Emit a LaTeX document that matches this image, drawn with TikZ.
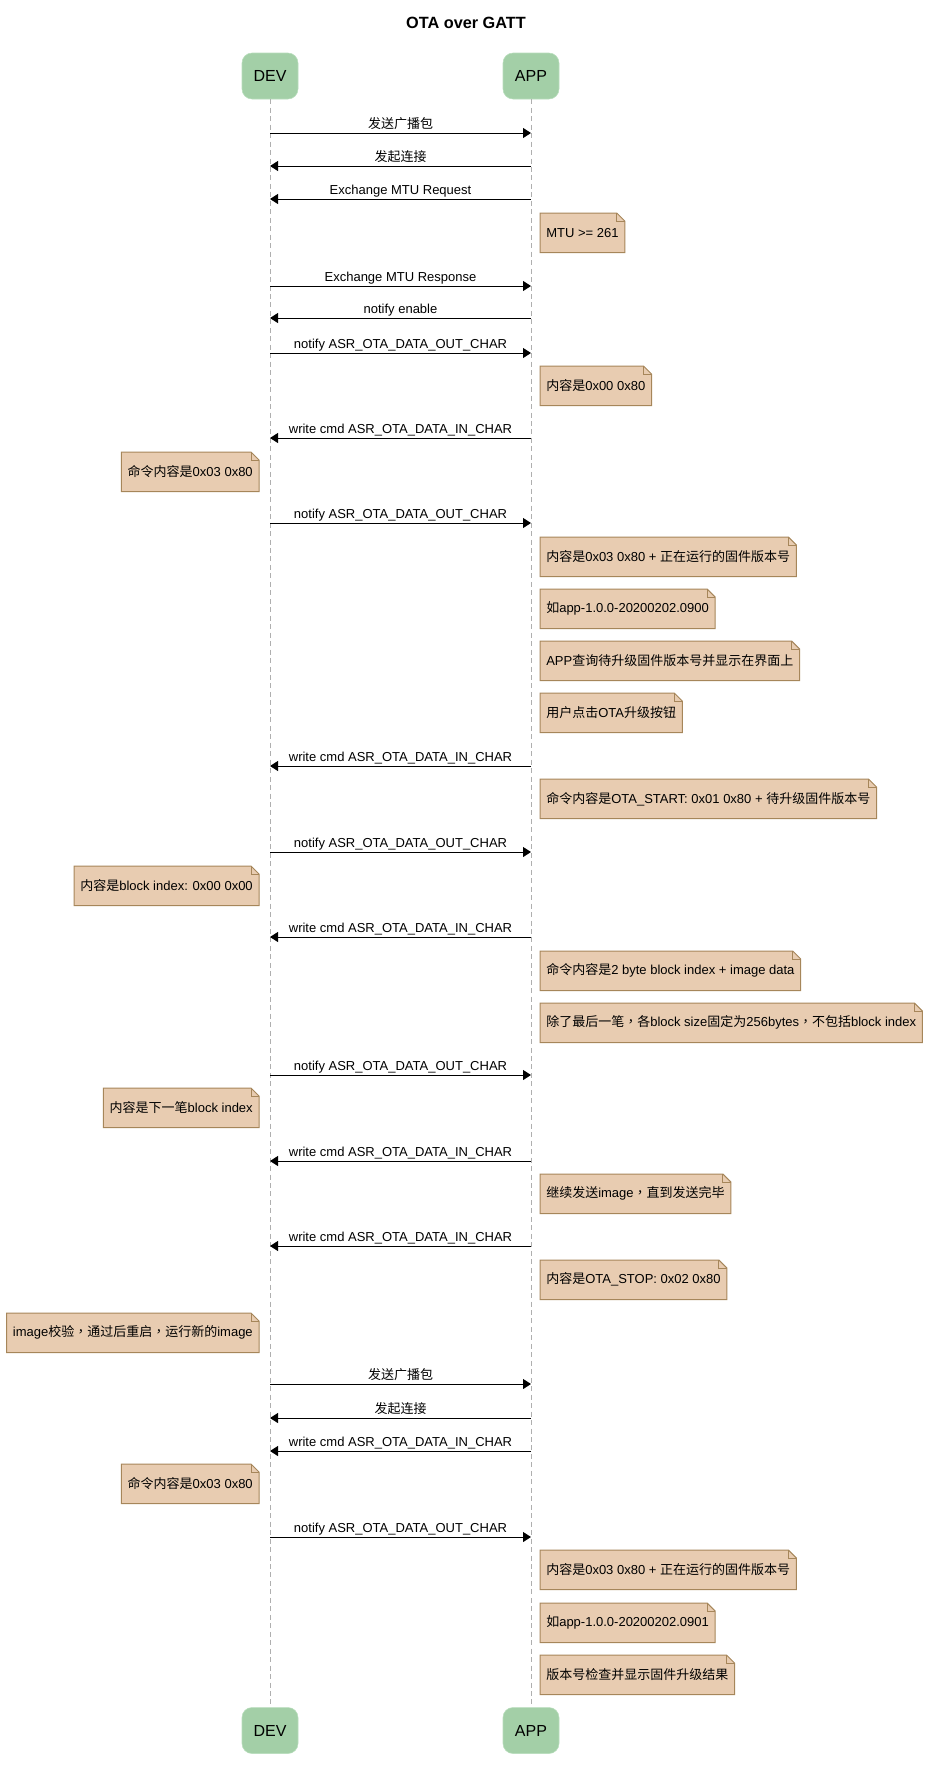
\documentclass[tikz,border=0pt]{standalone}
\usepackage{fontspec}
\setmainfont{Liberation Sans}
\newfontfamily\cjk{Noto Sans CJK SC}
\newfontfamily\cjktc{Noto Sans CJK TC}
\usepackage{tikz}
\usetikzlibrary{positioning,calc,arrows.meta}
\definecolor{partfill}{RGB}{163,207,167}
\definecolor{partline}{RGB}{184,221,188}
\definecolor{notefill}{RGB}{232,204,177}
\definecolor{noteline}{RGB}{166,134,90}
\definecolor{lifegray}{RGB}{175,175,175}
\newcommand{\zh}[1]{{\cjk #1}}
\newcommand{\zhcomma}{{\cjktc ，}}
\newcommand{\msgfont}{\fontsize{9.75}{11.7}\selectfont}
\tikzstyle{part}=[draw=partline, fill=partfill, rounded corners=7.5pt, minimum width=42pt, minimum height=34.5pt, font=\fontsize{12}{14}\selectfont]
\tikzstyle{life}=[draw=lifegray, line width=0.75pt, dash pattern=on 3.75pt off 2.6pt]
\tikzstyle{msg}=[-{Triangle[length=6pt,width=7.5pt]}, line width=0.75pt]
\tikzstyle{lbl}=[midway, anchor=base, yshift=3.75pt, inner sep=0pt, font=\msgfont]
\tikzstyle{rnote}=[anchor=north west, inner xsep=4.5pt, inner ysep=0pt, minimum height=29.25pt, font=\msgfont]
\tikzstyle{lnote}=[rnote, anchor=north east]
\pgfdeclarelayer{bg}
\pgfsetlayers{bg,main}
% folded note drawn behind its text node
\newcommand{\dogear}[1]{%
  \begin{pgfonlayer}{bg}
    \filldraw[draw=noteline, fill=notefill, line width=0.75pt] (#1.north west) -- ([xshift=-6pt]#1.north east) -- ([yshift=-6pt]#1.north east) -- (#1.south east) -- (#1.south west) -- cycle;
    \draw[noteline, line width=0.75pt] ([xshift=-6pt]#1.north east) -- ([xshift=-6pt,yshift=-6pt]#1.north east) -- ([yshift=-6pt]#1.north east);
  \end{pgfonlayer}}
\begin{document}
\begin{tikzpicture}[x=0.75pt, y=-0.75pt]
	\useasboundingbox (0,0) rectangle (932,1778);
	\node[font=\bfseries\fontsize{12.2}{14}\selectfont] (title) at (466,23) {OTA over GATT};
	\node[part] (dev) at (270,76) {DEV};
	\node[part] (app) at (531,76) {APP};
	\node[part] (devb) at (270,1730.5) {DEV};
	\node[part] (appb) at (531,1730.5) {APP};
	\draw[life] (dev) -- (devb);
	\draw[life] (app) -- (appb);
	% messages
	\coordinate (d1) at (270,133); \coordinate (a1) at (531,133);
	\draw[msg] (d1) -- (a1) node[lbl] {\zh{发送广播包}};
	\coordinate (d2) at (270,166); \coordinate (a2) at (531,166);
	\draw[msg] (a2) -- (d2) node[lbl] {\zh{发起连接}};
	\coordinate (d3) at (270,199); \coordinate (a3) at (531,199);
	\draw[msg] (a3) -- (d3) node[lbl] {Exchange MTU Request};
	\node[rnote] (n1) at (540,213) {MTU >= 261}; \dogear{n1}
	\coordinate (d4) at (270,286); \coordinate (a4) at (531,286);
	\draw[msg] (d4) -- (a4) node[lbl] {Exchange MTU Response};
	\coordinate (d5) at (270,318); \coordinate (a5) at (531,318);
	\draw[msg] (a5) -- (d5) node[lbl] {notify enable};
	\coordinate (d6) at (270,353); \coordinate (a6) at (531,353);
	\draw[msg] (d6) -- (a6) node[lbl] {notify ASR\_OTA\_DATA\_OUT\_CHAR};
	\node[rnote] (n2) at (540,366) {\zh{内容是}0x00 0x80}; \dogear{n2}
	\coordinate (d7) at (270,438); \coordinate (a7) at (531,438);
	\draw[msg] (a7) -- (d7) node[lbl] {write cmd ASR\_OTA\_DATA\_IN\_CHAR};
	\node[lnote] (n3) at (259,452) {\zh{命令内容是}0x03 0x80}; \dogear{n3}
	\coordinate (d8) at (270,523); \coordinate (a8) at (531,523);
	\draw[msg] (d8) -- (a8) node[lbl] {notify ASR\_OTA\_DATA\_OUT\_CHAR};
	\node[rnote] (n4) at (540,537) {\zh{内容是}0x03 0x80 + \zh{正在运行的固件版本号}}; \dogear{n4}
	\node[rnote] (n5) at (540,589) {\zh{如}app-1.0.0-20200202.0900}; \dogear{n5}
	\node[rnote] (n6) at (540,641) {APP\zh{查询待升级固件版本号并显示在界面上}}; \dogear{n6}
	\node[rnote] (n7) at (540,693) {\zh{用户点击}OTA\zh{升级按钮}}; \dogear{n7}
	\coordinate (d9) at (270,766); \coordinate (a9) at (531,766);
	\draw[msg] (a9) -- (d9) node[lbl] {write cmd ASR\_OTA\_DATA\_IN\_CHAR};
	\node[rnote] (n8) at (540,779) {\zh{命令内容是}OTA\_START: 0x01 0x80 + \zh{待升级固件版本号}}; \dogear{n8}
	\coordinate (d10) at (270,852); \coordinate (a10) at (531,852);
	\draw[msg] (d10) -- (a10) node[lbl] {notify ASR\_OTA\_DATA\_OUT\_CHAR};
	\node[lnote] (n9) at (259,866) {\zh{内容是}block index: 0x00 0x00}; \dogear{n9}
	\coordinate (d11) at (270,937); \coordinate (a11) at (531,937);
	\draw[msg] (a11) -- (d11) node[lbl] {write cmd ASR\_OTA\_DATA\_IN\_CHAR};
	\node[rnote] (n10) at (540,951) {\zh{命令内容是}2 byte block index + image data}; \dogear{n10}
	\node[rnote] (n11) at (540,1003) {\zh{除了最后一笔}\zhcomma\zh{各}block size\zh{固定为}256bytes\zhcomma\zh{不包括}block index}; \dogear{n11}
	\coordinate (d12) at (270,1075); \coordinate (a12) at (531,1075);
	\draw[msg] (d12) -- (a12) node[lbl] {notify ASR\_OTA\_DATA\_OUT\_CHAR};
	\node[lnote] (n12) at (259,1088) {\zh{内容是下一笔}block index}; \dogear{n12}
	\coordinate (d13) at (270,1161); \coordinate (a13) at (531,1161);
	\draw[msg] (a13) -- (d13) node[lbl] {write cmd ASR\_OTA\_DATA\_IN\_CHAR};
	\node[rnote] (n13) at (540,1174) {\zh{继续发送}image\zhcomma\zh{直到发送完毕}}; \dogear{n13}
	\coordinate (d14) at (270,1246); \coordinate (a14) at (531,1246);
	\draw[msg] (a14) -- (d14) node[lbl] {write cmd ASR\_OTA\_DATA\_IN\_CHAR};
	\node[rnote] (n14) at (540,1260) {\zh{内容是}OTA\_STOP: 0x02 0x80}; \dogear{n14}
	\node[lnote] (n15) at (259,1313) {image\zh{校验}\zhcomma\zh{通过后重启}\zhcomma\zh{运行新的}image}; \dogear{n15}
	\coordinate (d15) at (270,1384); \coordinate (a15) at (531,1384);
	\draw[msg] (d15) -- (a15) node[lbl] {\zh{发送广播包}};
	\coordinate (d16) at (270,1418); \coordinate (a16) at (531,1418);
	\draw[msg] (a16) -- (d16) node[lbl] {\zh{发起连接}};
	\coordinate (d17) at (270,1451); \coordinate (a17) at (531,1451);
	\draw[msg] (a17) -- (d17) node[lbl] {write cmd ASR\_OTA\_DATA\_IN\_CHAR};
	\node[lnote] (n16) at (259,1464) {\zh{命令内容是}0x03 0x80}; \dogear{n16}
	\coordinate (d18) at (270,1537); \coordinate (a18) at (531,1537);
	\draw[msg] (d18) -- (a18) node[lbl] {notify ASR\_OTA\_DATA\_OUT\_CHAR};
	\node[rnote] (n17) at (540,1550) {\zh{内容是}0x03 0x80 + \zh{正在运行的固件版本号}}; \dogear{n17}
	\node[rnote] (n18) at (540,1603) {\zh{如}app-1.0.0-20200202.0901}; \dogear{n18}
	\node[rnote] (n19) at (540,1655) {\zh{版本号检查并显示固件升级结果}}; \dogear{n19}
\end{tikzpicture}
\end{document}
